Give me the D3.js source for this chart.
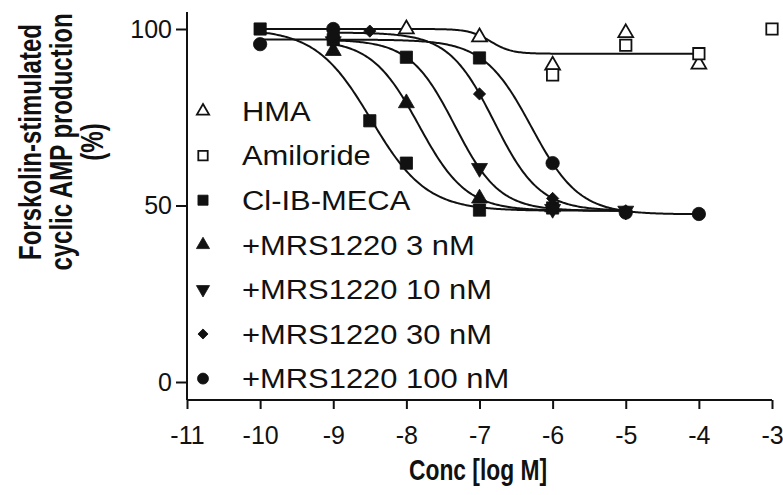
<!DOCTYPE html>
<html>
<head>
<meta charset="utf-8">
<script src="https://cdn.jsdelivr.net/npm/d3@7"></script>
<style>
  html, body { margin: 0; padding: 0; background: #fff; }
  svg { display: block; font-family: "Liberation Sans", Arial, Helvetica, sans-serif; }
</style>
</head>
<body>
<svg id="chart" width="783" height="495"></svg>
<script>
// ---------------- data ----------------
const seriesNames = ["HMA", "Amiloride", "Cl-IB-MECA", "+MRS1220 3 nM", "+MRS1220 10 nM", "+MRS1220 30 nM", "+MRS1220 100 nM"];
const seriesSymbols = ["triangleOpen", "squareOpen", "square", "triangle", "triangleDown", "diamond", "circle"];

const hmaX = [-8, -7, -6, -5, -4];
const hmaY = [100, 97.7, 89.7, 98.9, 90];
const amilorideX = [-6, -5, -4, -3];
const amilorideY = [87, 95.4, 93, 100];
const clibX = [-10, -9, -8.5, -8, -7, -6, -8, -7];
const clibY = [100, 97, 74, 62, 48.7, 49.3, 92, 91.8];
const mrs3X = [-9, -8, -7, -6];
const mrs3Y = [93.8, 79, 52, 49.5];
const mrs10X = [-9, -7, -6, -5];
const mrs10Y = [96.5, 60.6, 49, 48.5];
const mrs30X = [-9, -8.5, -7, -6, -5];
const mrs30Y = [98, 99.4, 81.6, 52, 48.5];
const mrs100X = [-10, -9, -6, -5, -4];
const mrs100Y = [95.7, 100, 62, 48, 47.6];

// fitted curves (sigmoidal dose-response), one per curve
const fitTop    = [100,  100,   97,    97,    99,    97];
const fitBottom = [93,   48.5,  48.5,  48.5,  48.5,  47.5];
const fitLogEC  = [-6.85,-8.48, -7.83, -7.34, -6.8,  -6.29];
const fitHill   = [3,    1.15,  1.34,  1.42,  1.4,   1.33];
const fitStart  = [-10,  -10,   -9,    -9,    -9,    -10];
const fitEnd    = [-4,   -6,    -5,    -5,    -5,    -4];

const xTicks = [-11, -10, -9, -8, -7, -6, -5, -4, -3];
const yTicks = [0, 50, 100];

// ---------------- layout ----------------
const svg = d3.select("#chart");
const x = d3.scaleLinear().domain([-11, -3]).range([187, 772]);
const y = d3.scaleLinear().domain([0, 100]).range([382, 29]);
const axisY = 400;
const ink = "#111";

// axes
const xAxis = d3.axisBottom(x).tickValues(xTicks).tickSize(9).tickPadding(17).tickFormat(d => String(d));
const gx = svg.append("g").attr("transform", `translate(0,${axisY})`).call(xAxis);
gx.select(".domain").attr("d", `M${x(-11)},0H${x(-3)}`);

const yAxis = d3.axisLeft(y).tickValues(yTicks).tickSize(11).tickPadding(4).tickFormat(d => String(d));
const gy = svg.append("g").attr("transform", `translate(${x(-11)},0)`).call(yAxis);
gy.select(".domain").attr("d", `M0,12V${axisY}`);

[gx, gy].forEach(g => {
  g.selectAll("path, line").attr("stroke", ink).attr("stroke-width", 2);
  g.selectAll("text").attr("fill", ink).attr("font-size", 25)
    .attr("font-family", "Liberation Sans, Arial, sans-serif");
});
gx.selectAll("text").attr("dy", "0.71em");

// axis titles
svg.append("text")
  .attr("transform", "translate(478,480) scale(0.95,1.2)")
  .attr("x", 0).attr("y", 0)
  .attr("text-anchor", "middle")
  .attr("font-size", 24).attr("font-weight", "bold").attr("fill", ink)
  .text("Conc [log M]");

[["Forskolin-stimulated", 30], ["cyclic AMP production", 61], ["(%)", 92]].forEach(([t, cx]) => {
  svg.append("text")
    .attr("transform", `translate(${cx},142) rotate(-90) scale(1,1.28)`)
    .attr("x", 0).attr("y", 0).attr("dy", "0.36em")
    .attr("text-anchor", "middle")
    .attr("font-size", 24).attr("font-weight", "bold").attr("fill", ink)
    .text(t);
});

// fitted curves
const line = d3.line().x(d => x(d[0])).y(d => y(d[1]));
fitTop.forEach((top, i) => {
  const pts = [];
  for (let v = fitStart[i]; v <= fitEnd[i] + 1e-9; v += 0.02) {
    const val = fitBottom[i] + (top - fitBottom[i]) / (1 + Math.pow(10, (v - fitLogEC[i]) * fitHill[i]));
    pts.push([v, val]);
  }
  svg.append("path").attr("d", line(pts)).attr("fill", "none")
    .attr("stroke", ink).attr("stroke-width", 2);
});

// markers
function symbolPath(kind, scale) {
  const s = scale || 1;
  switch (kind) {
    case "triangleOpen": return { d: d3.symbol(d3.symbolTriangle, 95 * s)(), fill: "#fff", rot: 0 };
    case "squareOpen":   return { d: d3.symbol(d3.symbolSquare, 130 * s)(), fill: "#fff", rot: 0 };
    case "square":       return { d: d3.symbol(d3.symbolSquare, 150 * s)(), fill: ink, rot: 0 };
    case "triangle":     return { d: d3.symbol(d3.symbolTriangle, 110 * s)(), fill: ink, rot: 0 };
    case "triangleDown": return { d: d3.symbol(d3.symbolTriangle, 110 * s)(), fill: ink, rot: 180 };
    case "diamond":      return { d: d3.symbol(d3.symbolSquare, 75 * s)(), fill: ink, rot: 45 };
    case "circle":       return { d: d3.symbol(d3.symbolCircle, 140 * s)(), fill: ink, rot: 0 };
  }
}
function drawSymbol(g, kind, cx, cy, scale) {
  const sp = symbolPath(kind, scale);
  g.append("path").attr("d", sp.d)
    .attr("transform", `translate(${cx},${cy}) rotate(${sp.rot})`)
    .attr("fill", sp.fill).attr("stroke", ink)
    .attr("stroke-width", sp.fill === "#fff" ? 1.8 : 0.8);
}

const seriesX = [hmaX, amilorideX, clibX, mrs3X, mrs10X, mrs30X, mrs100X];
const seriesY = [hmaY, amilorideY, clibY, mrs3Y, mrs10Y, mrs30Y, mrs100Y];
const gm = svg.append("g");
// filled series first, open ones on top
[2, 3, 4, 5, 6, 0, 1].forEach(i => {
  seriesX[i].forEach((v, j) => drawSymbol(gm, seriesSymbols[i], x(v), y(seriesY[i][j]), 1));
});

// legend
const lg = svg.append("g");
seriesNames.forEach((name, i) => {
  const cy = 111 + i * 44.6;
  drawSymbol(lg, seriesSymbols[i], 203, cy, 0.68);
  lg.append("text").attr("x", 242).attr("y", cy).attr("dy", "0.36em")
    .attr("font-size", 27).attr("fill", ink)
    .attr("transform", "translate(242,0) scale(1.145,1) translate(-242,0)")
    .text(name);
});
</script>
</body>
</html>
